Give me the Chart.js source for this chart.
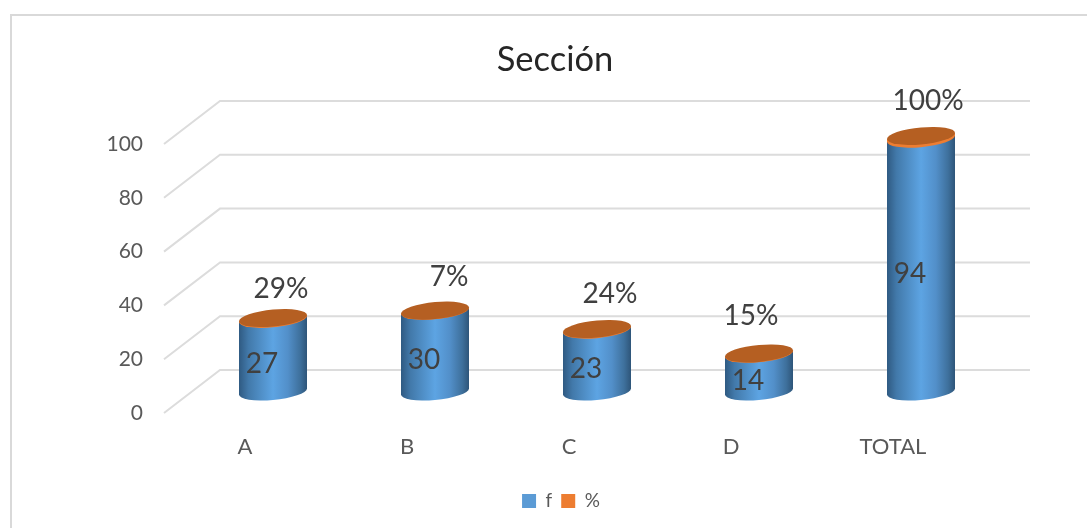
<!DOCTYPE html>
<html lang="es">
<head>
    <meta charset="UTF-8">
    <title>Sección</title>
    <script src="https://cdn.jsdelivr.net/npm/chart.js"></script>
    <style>
        body { margin: 0; background: #fff; }
        #wrap { position: relative; width: 1087px; height: 528px; }
    </style>
</head>
<body>
    <div id="wrap"><canvas id="chart" width="1087" height="528"></canvas></div>
    <script>
        const categories = ['A', 'B', 'C', 'D', 'TOTAL'];
        const frecuencia = [27, 30, 23, 14, 94];
        const porcentaje = [0.29, 0.07, 0.24, 0.15, 1.00];
        const seriesNames = ['f', '%'];

        // 3D look: wall sits this far behind the front plane, bars halfway
        const DEPTH_X = 56;
        const DEPTH_Y = 43;
        const SHEAR = -0.09;
        const CAP_RY = 8.5;
        const FONT = 'Lato, "Open Sans", sans-serif';

        // hand placed % labels in the reference, relative to top of the bar
        const pctNudge = [[8, -29], [14, -34], [13, -35], [-8, -37], [7, -35]];

        // coordinates are local to the cylinder, x = 0 is its axis
        function bodyGradient(ctx, w) {
            const g = ctx.createLinearGradient(-w / 2, 0, w / 2, 0);
            g.addColorStop(0, '#2f5a82');
            g.addColorStop(0.14, '#4279aa');
            g.addColorStop(0.5, '#5da4e3');
            g.addColorStop(0.72, '#528fc9');
            g.addColorStop(0.9, '#3e709c');
            g.addColorStop(1, '#2e5579');
            return g;
        }

        function drawCylinder(ctx, x, top, bottom, w, fill, capFill) {
            const rx = w / 2;
            ctx.save();
            ctx.transform(1, SHEAR, 0, 1, x, 0);
            ctx.beginPath();
            ctx.moveTo(-rx, top);
            ctx.lineTo(-rx, bottom);
            ctx.ellipse(0, bottom, rx, CAP_RY, 0, Math.PI, 0, true);
            ctx.lineTo(rx, top);
            ctx.closePath();
            ctx.fillStyle = fill;
            ctx.fill();
            if (capFill) {
                ctx.beginPath();
                ctx.ellipse(0, top, rx, CAP_RY, 0, 0, Math.PI * 2);
                ctx.fillStyle = capFill;
                ctx.fill();
            }
            ctx.restore();
        }

        const cylinderChart = {
            id: 'cylinderChart',
            afterLayout(chart) {
                // legend is a little right of the title in the reference
                chart.legend.left += 6;
                chart.legend.right += 6;
            },
            beforeDraw(chart) {
                const ctx = chart.ctx;
                // outer frame of the chart object
                ctx.save();
                ctx.strokeStyle = '#d9d9d9';
                ctx.lineWidth = 2;
                ctx.strokeRect(11, 15, chart.width + 20, chart.height + 20);
                ctx.restore();
            },
            beforeDatasetsDraw(chart) {
                const ctx = chart.ctx;
                const { left, right } = chart.chartArea;
                const y = chart.scales.y;

                // side wall + back wall grid
                ctx.save();
                ctx.strokeStyle = '#dcdcdc';
                ctx.lineWidth = 2;
                y.ticks.forEach(t => {
                    const py = y.getPixelForValue(t.value);
                    ctx.beginPath();
                    ctx.moveTo(left, py);
                    ctx.lineTo(left + DEPTH_X, py - DEPTH_Y);
                    ctx.lineTo(right + DEPTH_X, py - DEPTH_Y);
                    ctx.stroke();
                });
                ctx.restore();

                // cylinders, at mid depth
                const metaF = chart.getDatasetMeta(0);
                const metaP = chart.getDatasetMeta(1);
                ctx.save();
                ctx.translate(DEPTH_X / 2, -DEPTH_Y / 2);
                metaF.data.forEach((bar, i) => {
                    const top = metaP.data[i];
                    drawCylinder(ctx, bar.x, bar.y, bar.base, bar.width, bodyGradient(ctx, bar.width), null);
                    drawCylinder(ctx, top.x, top.y, top.base, top.width, '#ed7d31', '#b55f22');
                });
                ctx.restore();
                return false; // skip the default flat bars
            },
            // afterDatasetsDraw does not fire once the step above returns false
            afterDraw(chart) {
                const ctx = chart.ctx;
                const metaF = chart.getDatasetMeta(0);
                const metaP = chart.getDatasetMeta(1);
                ctx.save();
                ctx.fillStyle = '#404040';
                ctx.font = '28px ' + FONT;
                ctx.textAlign = 'center';
                ctx.textBaseline = 'middle';
                metaF.data.forEach((bar, i) => {
                    // value label, a bit in front of the bar centre
                    ctx.fillText(frecuencia[i], bar.x + 17, (bar.y + bar.base) / 2 - 13);
                    const top = metaP.data[i];
                    const txt = Math.round(porcentaje[i] * 100) + '%';
                    ctx.fillText(txt, top.x + DEPTH_X / 2 + pctNudge[i][0], top.y - DEPTH_Y / 2 + pctNudge[i][1]);
                });
                ctx.restore();
            }
        };

        new Chart(document.getElementById('chart'), {
            type: 'bar',
            data: {
                labels: categories,
                datasets: [
                    { label: seriesNames[0], data: frecuencia, backgroundColor: '#5b9bd5' },
                    { label: seriesNames[1], data: porcentaje, backgroundColor: '#ed7d31' }
                ]
            },
            options: {
                responsive: false,
                animation: false,
                layout: { padding: { left: 23, right: 0, top: 0, bottom: 7.5 } },
                datasets: { bar: { barThickness: 68 } },
                scales: {
                    x: {
                        stacked: true,
                        grid: { display: false, drawTicks: false },
                        border: { display: false },
                        ticks: { color: '#595959', font: { family: FONT, size: 22 }, padding: 21, maxRotation: 0 },
                        afterFit(scale) { scale.height = 69.5; }
                    },
                    y: {
                        stacked: true,
                        min: 0,
                        max: 100,
                        grid: { display: false, drawTicks: false },
                        border: { display: false },
                        ticks: { stepSize: 20, color: '#595959', font: { family: FONT, size: 21 }, padding: 21 },
                        afterFit(scale) { scale.width = 141; }
                    },
                    // empty axis, only keeps the room right of the plot
                    spacer: {
                        position: 'right',
                        grid: { display: false, drawTicks: false },
                        border: { display: false },
                        ticks: { display: false },
                        afterFit(scale) { scale.width = 113; }
                    }
                },
                plugins: {
                    title: {
                        display: true,
                        text: 'Sección',
                        color: '#262626',
                        font: { family: FONT, size: 34.5, weight: 'normal' },
                        padding: { top: 39.3, bottom: 63.3 }
                    },
                    legend: {
                        position: 'bottom',
                        labels: {
                            boxWidth: 14,
                            boxHeight: 14,
                            color: '#595959',
                            font: { family: FONT, size: 19 },
                            padding: 9
                        }
                    },
                    tooltip: { enabled: false }
                }
            },
            plugins: [cylinderChart]
        });
    </script>
</body>
</html>
